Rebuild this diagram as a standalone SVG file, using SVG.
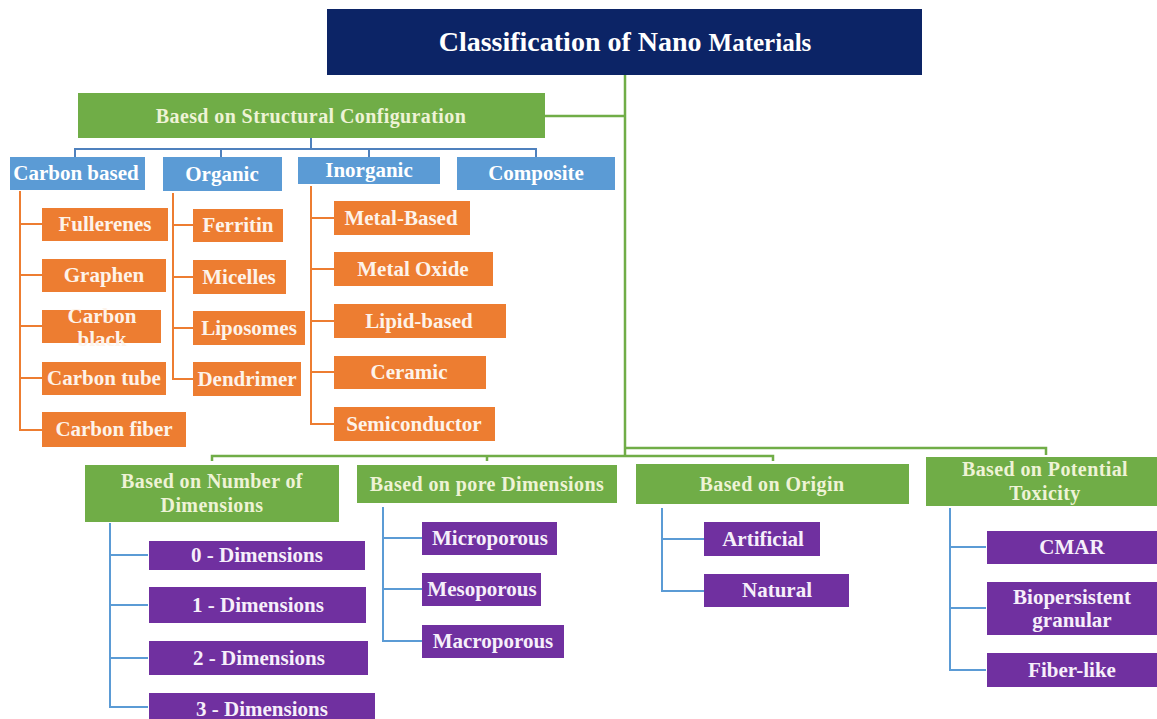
<svg xmlns="http://www.w3.org/2000/svg" width="1157" height="719" viewBox="0 0 1157 719">
<style>
text{font-weight:bold;text-anchor:middle}
.t{font-size:21px;fill:#ffffff}
.g{fill:#70ad47}
.gt{font-size:20px;fill:#eef3d6;letter-spacing:0.4px}
.b{fill:#5b9bd5}
.o{fill:#ed7d31}
.ot{font-size:21px;fill:#fdf3ea}
.p{fill:#7030a0}
.pt{font-size:21px;fill:#f6effa}
.cg{stroke:#70ad47;stroke-width:2.5;fill:none}
.cb{stroke:#4f81bd;stroke-width:2;fill:none}
.co{stroke:#ed7d31;stroke-width:2;fill:none}
.cp{stroke:#5b9bd5;stroke-width:2;fill:none}
</style>
<rect width="1157" height="719" fill="#ffffff"/>
<g id="connectors">
<path class="cg" d="M625 75V456M545 116H625M212 461V456H773V461M487 456V461M625 448H1046V455"/>
<path class="cb" d="M311 138V149M75 157V149H536V157M221 149V157M369 149V157"/>
<path class="co" d="M20 191V430H42M20 224H42M20 275H42M20 326H42M20 378H42"/>
<path class="co" d="M173 193V379H193M173 225H193M173 277H193M173 328H193"/>
<path class="co" d="M311 186V424H334M311 218H334M311 269H334M311 321H334M311 372H334"/>
<path class="cp" d="M110 523V707H148M110 555H148M110 605H148M110 658H148"/>
<path class="cp" d="M383 507V641H422M383 538H422M383 589H422"/>
<path class="cp" d="M662 508V591H704M662 539H704"/>
<path class="cp" d="M950 508V670H986M950 547H986M950 608H986"/>
</g>
<g font-family="Liberation Serif, Times New Roman, DejaVu Serif, serif">
<g id="title"><rect x="327" y="9" width="595" height="66" fill="#0c2466"/><text x="625" y="51" font-size="28" fill="#ffffff">Classification of Nano <tspan font-size="25">Materials</tspan></text></g>
<g id="structural"><rect class="g" x="78" y="93" width="467" height="45"/><text class="gt" x="311" y="123">Baesd on Structural  Configuration</text></g>
<g id="carbon-based"><rect class="b" x="10" y="157" width="135" height="33"/><text class="t" x="76" y="180">Carbon  based</text></g>
<g id="organic"><rect class="b" x="163" y="157" width="119" height="34"/><text class="t" x="222" y="181">Organic</text></g>
<g id="inorganic"><rect class="b" x="298" y="157" width="142" height="27"/><text class="t" x="369" y="177">Inorganic</text></g>
<g id="composite"><rect class="b" x="457" y="157" width="158" height="33"/><text class="t" x="536" y="180">Composite</text></g>
<g id="fullerenes"><rect class="o" x="42" y="208" width="126" height="33"/><text class="ot" x="105" y="231">Fullerenes</text></g>
<g id="graphen"><rect class="o" x="42" y="259" width="124" height="33"/><text class="ot" x="104" y="282">Graphen</text></g>
<g id="carbon-black"><rect class="o" x="42" y="310" width="119" height="33"/><text class="ot" x="102" y="323">Carbon</text><text class="ot" x="102" y="346">black</text></g>
<g id="carbon-tube"><rect class="o" x="42" y="362" width="124" height="33"/><text class="ot" x="104" y="385">Carbon  tube</text></g>
<g id="carbon-fiber"><rect class="o" x="42" y="412" width="144" height="35"/><text class="ot" x="114" y="436">Carbon  fiber</text></g>
<g id="ferritin"><rect class="o" x="193" y="209" width="90" height="33"/><text class="ot" x="238" y="232">Ferritin</text></g>
<g id="micelles"><rect class="o" x="193" y="260" width="93" height="34"/><text class="ot" x="239" y="284">Micelles</text></g>
<g id="liposomes"><rect class="o" x="193" y="311" width="112" height="34"/><text class="ot" x="249" y="335">Liposomes</text></g>
<g id="dendrimer"><rect class="o" x="193" y="362" width="108" height="34"/><text class="ot" x="247" y="386">Dendrimer</text></g>
<g id="metal-based"><rect class="o" x="334" y="201" width="136" height="34"/><text class="ot" x="401" y="225">Metal-Based</text></g>
<g id="metal-oxide"><rect class="o" x="334" y="252" width="159" height="34"/><text class="ot" x="413" y="276">Metal Oxide</text></g>
<g id="lipid-based"><rect class="o" x="334" y="304" width="172" height="34"/><text class="ot" x="419" y="328">Lipid-based</text></g>
<g id="ceramic"><rect class="o" x="334" y="356" width="152" height="33"/><text class="ot" x="409" y="379">Ceramic</text></g>
<g id="semiconductor"><rect class="o" x="334" y="407" width="161" height="34"/><text class="ot" x="414" y="431">Semiconductor</text></g>
<g id="dimensions"><rect class="g" x="85" y="465" width="254" height="57"/><text class="gt" x="212" y="488">Based on Number  of</text><text class="gt" x="212" y="512">Dimensions</text></g>
<g id="pore"><rect class="g" x="357" y="465" width="260" height="38"/><text class="gt" x="487" y="491">Based on pore Dimensions</text></g>
<g id="origin"><rect class="g" x="636" y="464" width="273" height="40"/><text class="gt" x="772" y="491">Based on Origin</text></g>
<g id="toxicity"><rect class="g" x="926" y="457" width="231" height="49"/><text class="gt" x="1045" y="476">Based on  Potential</text><text class="gt" x="1045" y="500">Toxicity</text></g>
<g id="d0"><rect class="p" x="149" y="541" width="216" height="29"/><text class="pt" x="257" y="562">0 - Dimensions</text></g>
<g id="d1"><rect class="p" x="149" y="587" width="217" height="36"/><text class="pt" x="258" y="612">1 - Dimensions</text></g>
<g id="d2"><rect class="p" x="149" y="641" width="219" height="34"/><text class="pt" x="259" y="665">2 - Dimensions</text></g>
<g id="d3"><rect class="p" x="149" y="693" width="226" height="26"/><text class="pt" x="262" y="716">3 - Dimensions</text></g>
<g id="microporous"><rect class="p" x="422" y="522" width="135" height="33"/><text class="pt" x="490" y="545">Microporous</text></g>
<g id="mesoporous"><rect class="p" x="422" y="573" width="119" height="33"/><text class="pt" x="482" y="596">Mesoporous</text></g>
<g id="macroporous"><rect class="p" x="422" y="625" width="142" height="33"/><text class="pt" x="493" y="648">Macroporous</text></g>
<g id="artificial"><rect class="p" x="704" y="522" width="116" height="34"/><text class="pt" x="763" y="546">Artificial</text></g>
<g id="natural"><rect class="p" x="704" y="574" width="145" height="33"/><text class="pt" x="777" y="597">Natural</text></g>
<g id="cmar"><rect class="p" x="987" y="531" width="170" height="33"/><text class="pt" x="1072" y="554">CMAR</text></g>
<g id="biopersistent"><rect class="p" x="987" y="582" width="170" height="53"/><text class="pt" x="1072" y="604">Biopersistent</text><text class="pt" x="1072" y="627">granular</text></g>
<g id="fiber-like"><rect class="p" x="987" y="653" width="170" height="34"/><text class="pt" x="1072" y="677">Fiber-like</text></g>
</g>
</svg>
